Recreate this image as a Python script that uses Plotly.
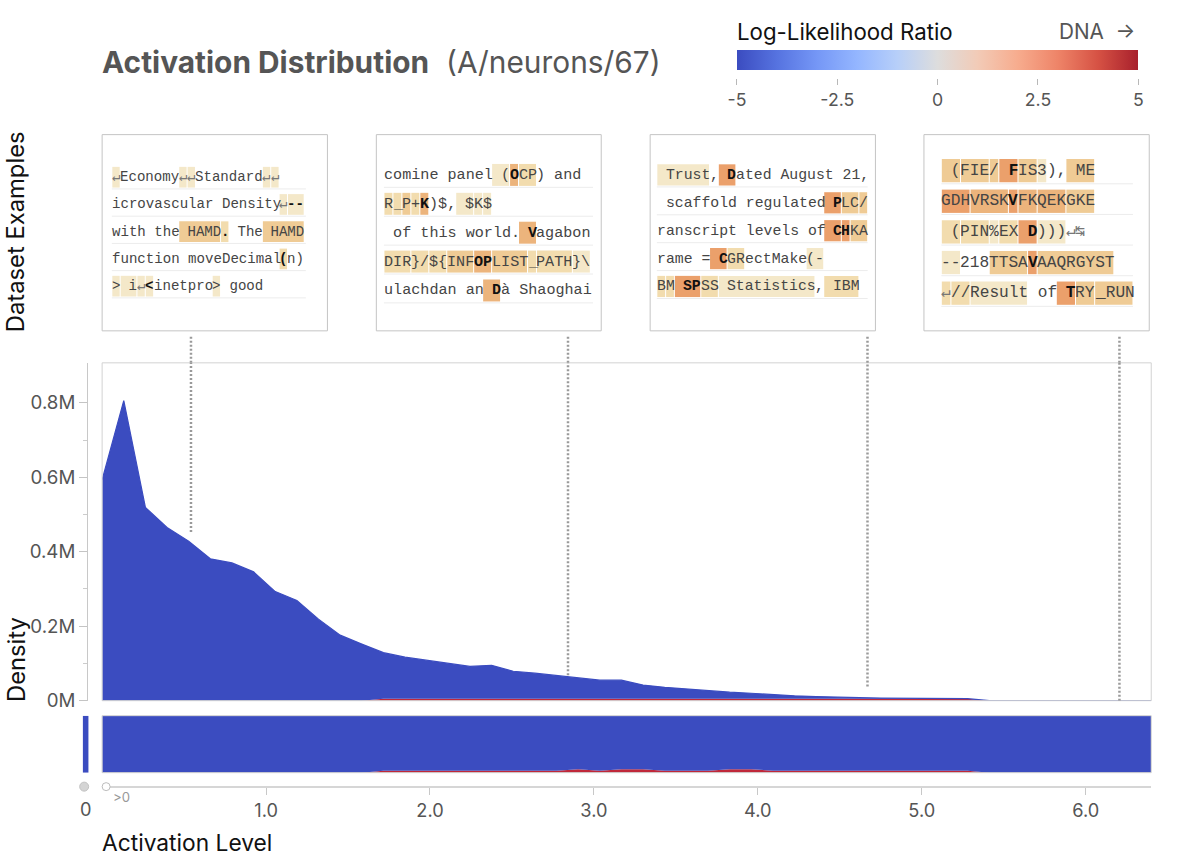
import plotly.graph_objects as go

W, H = 1188, 861

# ---------------- data ----------------
activation = [0.000, 0.132, 0.264, 0.396, 0.528, 0.660, 0.792, 0.924, 1.056, 1.188,
              1.320, 1.452, 1.584, 1.716, 1.848, 1.980, 2.112, 2.244, 2.376, 2.508,
              2.640, 2.772, 2.904, 3.036, 3.168, 3.300, 3.432, 3.564, 3.696, 3.828,
              3.960, 4.092, 4.224, 4.356, 4.488, 4.620, 4.752, 4.884, 5.016, 5.148,
              5.280, 5.412, 5.544, 5.676, 5.808, 5.940, 6.072, 6.204, 6.336, 6.400]
density_m = [0.593, 0.806, 0.519, 0.465, 0.428, 0.381, 0.370, 0.346, 0.293, 0.269,
             0.219, 0.176, 0.152, 0.124, 0.112, 0.104, 0.094, 0.087, 0.090, 0.074,
             0.069, 0.063, 0.057, 0.050, 0.050, 0.037, 0.031, 0.026, 0.022, 0.018,
             0.015, 0.011, 0.008, 0.006, 0.004, 0.003, 0.002, 0.0013, 0.0008, 0.0005,
             0.0003, 0.0, 0.0, 0.0, 0.0, 0.0, 0.0, 0.0, 0.0, 0.0]
dna_density_m = [0, 0, 0, 0, 0, 0, 0, 0, 0, 0,
                 0, 0, 0, 0.005, 0.005, 0.005, 0.005, 0.005, 0.005, 0.005,
                 0.005, 0.005, 0.005, 0.005, 0.005, 0.005, 0.005, 0.005, 0.005, 0.005,
                 0.005, 0.005, 0.005, 0.005, 0.005, 0.005, 0.005, 0.005, 0.005, 0.005,
                 0.005, 0, 0, 0, 0, 0, 0, 0, 0, 0]
strip_dna_share = [0, 0, 0, 0, 0, 0, 0, 0, 0, 0,
                   0, 0, 0, 0.035, 0.035, 0.035, 0.035, 0.035, 0.035, 0.035,
                   0.035, 0.035, 0.06, 0.035, 0.06, 0.06, 0.035, 0.035, 0.035, 0.06,
                   0.06, 0.035, 0.035, 0.035, 0.035, 0.035, 0.035, 0.035, 0.035, 0.035,
                   0.035, 0, 0, 0, 0, 0, 0, 0, 0, 0]
zero_bin_share = [1.0]

y_tickvals = [0, 0.2, 0.4, 0.6, 0.8]
y_ticktext = ["0M", "0.2M", "0.4M", "0.6M", "0.8M"]
y_minorvals = [0.1, 0.3, 0.5, 0.7]
x_tickvals = [1, 2, 3, 4, 5, 6]
x_ticktext = ["1.0", "2.0", "3.0", "4.0", "5.0", "6.0"]
llr_tickvals = [-5, -2.5, 0, 2.5, 5]
llr_ticktext = ["-5", "-2.5", "0", "2.5", "5"]

example_activation = [0.542, 2.842, 4.669, 6.206]
example_line_end_m = [0.453, 0.068, 0.038, 0.0]

# token rows: (text, highlight level, bold)
examples_box1 = [
    [("↵", 1, 0), ("Economy", 0, 0), ("↵", 1, 0), ("↵", 1, 0), ("Standard", 0, 0), ("↵", 1, 0), ("↵", 1, 0)],
    [("icrovascular Density", 0, 0), ("↵", 1, 0), ("--", 1, 1)],
    [("with the", 0, 0), (" HAMD", 3, 0), (".", 2, 1), (" The", 0, 0), (" HAMD", 3, 0)],
    [("function moveDecimal", 0, 0), ("(", 2, 1), ("n)", 0, 0)],
    [(">", 1, 0), (" i", 1, 0), ("↵", 1, 0), ("<", 1, 1), ("inetpro", 0, 0), (">", 1, 0), (" good", 0, 0)],
]
examples_box2 = [
    [("comine panel", 0, 0), (" (", 1, 0), ("O", 4, 1), ("CP", 2, 0), (")", 0, 0), (" and", 0, 0)],
    [("R", 2, 0), ("_", 2, 0), ("P", 3, 0), ("+", 2, 0), ("K", 4, 1), (")$,", 0, 0), (" $", 1, 0), ("K", 1, 0), ("$", 1, 0)],
    [(" of this world.", 0, 0), (" V", 4, 1), ("agabon", 0, 0)],
    [("DIR", 2, 0), ("}/", 2, 0), ("${", 2, 0), ("INF", 3, 0), ("OP", 4, 1), ("LIST", 3, 0), ("_", 2, 0), ("PATH", 2, 0), ("}\\", 1, 0)],
    [("ulachdan an", 0, 0), (" D", 4, 1), ("à Shaoghai", 0, 0)],
]
examples_box3 = [
    [(" Trust", 1, 0), (",", 0, 0), (" D", 5, 1), ("ated August 21,", 0, 0)],
    [(" scaffold regulated", 0, 0), (" P", 5, 1), ("LC", 3, 0), ("/", 3, 0)],
    [("ranscript levels of", 0, 0), (" C", 5, 1), ("H", 5, 1), ("KA", 3, 0)],
    [("rame =", 0, 0), (" C", 5, 1), ("GR", 2, 0), ("ectMake", 0, 0), ("(-", 1, 0)],
    [("B", 2, 0), ("M", 2, 0), (" SP", 5, 1), ("SS", 2, 0), (" Statistics", 1, 0), (",", 0, 0), (" IBM", 2, 0)],
]
examples_box4 = [
    [(" (", 3, 0), ("FIE", 3, 0), ("/", 3, 0), (" F", 5, 1), ("IS", 3, 0), ("3", 1, 0), ("),", 0, 0), (" ME", 3, 0)],
    [("GDH", 5, 0), ("VRSK", 4, 0), ("V", 5, 1), ("FK", 4, 0), ("QEK", 4, 0), ("GKE", 3, 0)],
    [(" (", 2, 0), ("PIN", 2, 0), ("%", 1, 0), ("EX", 2, 0), (" D", 5, 1), (")))", 1, 0), ("↵", 0, 0), ("↹", 0, 0)],
    [("--", 1, 0), ("218", 0, 0), ("TTSA", 3, 0), ("V", 5, 1), ("AAQRGYST", 3, 0)],
    [("↵", 2, 0), ("//", 2, 0), ("Result", 1, 0), (" of", 0, 0), (" T", 5, 1), ("RY", 3, 0), ("_RUN", 3, 0)],
]
examples = [examples_box1, examples_box2, examples_box3, examples_box4]

# ---------------- style / layout constants ----------------
BLUE = "#3b4cc0"
RED = "#c0283a"
UI_FONT = "Inter, Roboto, sans-serif"
MONO = "Liberation Mono, DejaVu Sans Mono, monospace"
LEVEL_COLORS = {1: "#f4e8c9", 2: "#f2dcae", 3: "#efcb95", 4: "#ecb47c", 5: "#eba06b"}
coolwarm = [[0.0, "#3b4cc0"], [0.1, "#5673e0"], [0.2, "#7597f6"], [0.3, "#94b6ff"],
            [0.4, "#b7cff9"], [0.5, "#dddddd"], [0.6, "#f2cbb7"], [0.7, "#f7ac8e"],
            [0.8, "#ee8468"], [0.9, "#d65244"], [1.0, "#a8202c"]]

# the page is photographed slightly reduced and shifted; layout positions below are
# given in target-picture pixels and mapped through this correction
SX, OX = 0.990, 7.7
SY, OY = 0.9865, 0.0


def X(px):
    return ((px - OX) / SX) / W


def Y(py):
    return 1 - ((py - OY) / SY) / H


def F(size):
    return size / ((SX + SY) / 2)


X_RANGE = [0, 6.40]
Y_TOP = 0.9074

boxes = [
    dict(x0=101, x1=326.7, tx=110.7, cw=8.38, ry=177.3, dy=27.25, ncols=23.2),
    dict(x0=375.7, x1=601, tx=383.3, cw=8.99, ry=175.0, dy=28.9, ncols=23.3),
    dict(x0=650, x1=875.7, tx=656.7, cw=8.8, ry=175.0, dy=27.9, ncols=24.0),
    dict(x0=924.3, x1=1150, tx=941.7, cw=9.6, ry=170.7, dy=30.65, ncols=20.0),
]
BOX_Y0, BOX_Y1 = 134.7, 331

# ---------------- traces ----------------
fig = go.Figure()
fig.add_trace(go.Scatter(x=activation, y=dna_density_m, stackgroup="main", mode="lines",
                         line=dict(width=0, color=RED), fillcolor=RED,
                         xaxis="x", yaxis="y", hoverinfo="skip", showlegend=False))
fig.add_trace(go.Scatter(x=activation, y=density_m, stackgroup="main", mode="lines",
                         line=dict(width=1.2, color=BLUE), fillcolor=BLUE,
                         xaxis="x", yaxis="y", showlegend=False))

fig.add_trace(go.Scatter(x=activation, y=strip_dna_share, stackgroup="strip", mode="lines",
                         line=dict(width=0, color=RED), fillcolor=RED,
                         xaxis="x2", yaxis="y2", hoverinfo="skip", showlegend=False))
fig.add_trace(go.Scatter(x=activation, y=[1 - s for s in strip_dna_share], stackgroup="strip",
                         mode="lines", line=dict(width=0, color=BLUE), fillcolor=BLUE,
                         xaxis="x2", yaxis="y2", hoverinfo="skip", showlegend=False))

fig.add_trace(go.Bar(x=[0], y=zero_bin_share, width=1, marker=dict(color=BLUE, line=dict(width=0)),
                     xaxis="x3", yaxis="y3", showlegend=False, hoverinfo="skip"))

fig.add_trace(go.Scatter(x=[X_RANGE[0]], y=[0.5], mode="markers", marker=dict(size=1, opacity=0),
                         xaxis="x4", yaxis="y4", hoverinfo="skip", showlegend=False))

fig.add_trace(go.Scatter(
    x=[0], y=[0.5], mode="markers", xaxis="x5", yaxis="y5", hoverinfo="skip", showlegend=False,
    marker=dict(size=1, opacity=0, color=[0], cmin=-5, cmax=5, colorscale=coolwarm, showscale=True,
                colorbar=dict(orientation="h", x=(X(737) + X(1139)) / 2, xanchor="center",
                              y=Y(50), yanchor="top", len=X(1139) - X(737), lenmode="fraction",
                              thickness=20 / SY, thicknessmode="pixels", outlinewidth=0,
                              xpad=0, ypad=0, ticks="", showticklabels=False))))

# ---------------- shapes & annotations ----------------
shapes = []
annotations = []

shapes.append(dict(type="rect", xref="x domain", yref="y domain", x0=0, x1=1, y0=0, y1=1,
                   line=dict(color="#d2d2d2", width=1), layer="above"))
shapes.append(dict(type="rect", xref="x2 domain", yref="y2 domain", x0=0, x1=1, y0=0, y1=1,
                   line=dict(color="#cfcfcf", width=1), layer="above"))

for act, yend in zip(example_activation, example_line_end_m):
    shapes.append(dict(type="line", xref="x", yref="y", x0=act, x1=act, y0=yend, y1=Y_TOP,
                       line=dict(color="#9a9a9a", width=2.5, dash="2px,2px"), layer="above"))
    shapes.append(dict(type="line", xref="x", yref="paper", x0=act, x1=act, y0=Y(363), y1=Y(335),
                       line=dict(color="#9a9a9a", width=2.5, dash="2px,2px"), layer="above"))

shapes.append(dict(type="circle", xref="paper", yref="paper", x0=X(78.5), x1=X(87.5),
                   y0=Y(791.5), y1=Y(782.5), fillcolor="#d4d4d4", line=dict(color="#c2c2c2", width=1)))
shapes.append(dict(type="circle", xref="paper", yref="paper", x0=X(101), x1=X(109),
                   y0=Y(791), y1=Y(783), fillcolor="white", line=dict(color="#bdbdbd", width=1)))


def esc(s):
    return s.replace("&", "&amp;").replace("<", "&lt;").replace(">", "&gt;").replace(" ", "\u00a0")


for b, rows in zip(boxes, examples):
    shapes.append(dict(type="rect", xref="paper", yref="paper", x0=X(b["x0"]), x1=X(b["x1"]),
                       y0=Y(BOX_Y1), y1=Y(BOX_Y0), fillcolor="white",
                       line=dict(color="#c4c4c4", width=1), layer="above"))
    fs = (b["cw"] / SX) / 0.6
    for r, row in enumerate(rows):
        yc = b["ry"] + r * b["dy"]
        hh = 0.38 * b["dy"]
        idx = 0
        for text, level, bold in row:
            n = len(text)
            if level:
                shapes.append(dict(type="rect", xref="paper", yref="paper",
                                   x0=X(b["tx"] + idx * b["cw"] + 0.5),
                                   x1=X(b["tx"] + (idx + n) * b["cw"] - 0.5),
                                   y0=Y(yc + hh), y1=Y(yc - hh),
                                   fillcolor=LEVEL_COLORS[level], line=dict(width=0), layer="above"))
            if bold:
                stripped = text.lstrip(" ")
                lead = len(text) - len(stripped)
                label = esc(" " * lead) + "<b><span style='color:#111'>" + esc(stripped) + "</span></b>"
            else:
                label = esc(text)
            color = "#777" if text in ("↵", "↹") else "#454545"
            annotations.append(dict(xref="paper", yref="paper", x=X(b["tx"] + idx * b["cw"]), y=Y(yc),
                                    xanchor="left", yanchor="middle", showarrow=False, text=label,
                                    borderpad=0, borderwidth=0,
                                    font=dict(family=MONO, size=fs, color=color)))
            idx += n
        shapes.append(dict(type="line", xref="paper", yref="paper", x0=X(b["tx"]),
                           x1=X(b["tx"] + b["ncols"] * b["cw"]),
                           y0=Y(yc + 0.43 * b["dy"]), y1=Y(yc + 0.43 * b["dy"]),
                           line=dict(color="#ececec", width=1), layer="above"))


def ann(text, x, y, size, color, xanchor="left", angle=0):
    annotations.append(dict(xref="paper", yref="paper", x=X(x), y=Y(y), text=text, showarrow=False,
                            xanchor=xanchor, yanchor="middle", textangle=angle, borderpad=0,
                            font=dict(family=UI_FONT, size=F(size), color=color)))


ann("<b>Activation Distribution</b>", 100, 62, 29.5, "#555555")
ann("(A/neurons/67)", 444, 62, 29.5, "#555555")
ann("Log-Likelihood Ratio", 736, 32, 22, "#111111")
ann("DNA\u00a0\u00a0\u2192", 1137, 32, 20.5, "#555555", xanchor="right")
ann("Dataset Examples", 15, 232, 23.5, "#111111", xanchor="center", angle=-90)
ann("Density", 15, 660, 23.5, "#111111", xanchor="center", angle=-90)
ann("Activation Level", 100, 843, 22.5, "#111111")
ann("0", 84, 809, 18, "#555555", xanchor="center")
ann("&gt;0", 111, 797, 13, "#999999")

ytickfont = dict(family=UI_FONT, size=F(18.5), color="#555555")
xtickfont = dict(family=UI_FONT, size=F(18), color="#555555")
cbtickfont = dict(family=UI_FONT, size=F(17.5), color="#555555")

fig.update_layout(
    width=W, height=H, autosize=False,
    margin=dict(l=0, r=0, t=0, b=0, pad=0),
    paper_bgcolor="white", plot_bgcolor="white",
    showlegend=False,
    xaxis=dict(domain=[X(101), X(1152)], range=X_RANGE, anchor="y", visible=False),
    yaxis=dict(domain=[Y(701), Y(363)], range=[0, Y_TOP], anchor="free", position=X(86),
               showline=True, linecolor="#c8c8c8", linewidth=1, ticks="outside", ticklen=8 / SX,
               tickcolor="#c4c4c4", tickvals=y_tickvals, ticktext=y_ticktext, tickfont=ytickfont,
               showgrid=False, zeroline=False,
               minor=dict(tickvals=y_minorvals, ticks="outside", ticklen=4 / SX, tickcolor="#cccccc",
                          showgrid=False)),
    xaxis2=dict(domain=[X(101), X(1152)], range=X_RANGE, anchor="y2", visible=False),
    yaxis2=dict(domain=[Y(773), Y(716)], range=[0, 1], anchor="x2", visible=False),
    xaxis3=dict(domain=[X(81.5), X(87.5)], range=[-0.5, 0.5], anchor="y3", visible=False),
    yaxis3=dict(domain=[Y(773), Y(716)], range=[0, 1], anchor="x3", visible=False),
    xaxis4=dict(domain=[X(101), X(1152)], range=X_RANGE, anchor="y4", showline=True,
                linecolor="#d6d6d6", linewidth=2, ticks="outside", ticklen=7 / SY, tickcolor="#c8c8c8",
                tickvals=x_tickvals, ticktext=x_ticktext, tickfont=xtickfont,
                showgrid=False, zeroline=False),
    yaxis4=dict(domain=[Y(786), Y(786) + 0.002], range=[0, 1], anchor="x4", visible=False),
    xaxis5=dict(domain=[X(737), X(1139)], range=[-5, 5], anchor="y5", showline=False,
                ticks="outside", ticklen=6 / SY, tickcolor="#b8b8b8", tickvals=llr_tickvals,
                ticktext=llr_ticktext, tickfont=cbtickfont, showgrid=False, zeroline=False),
    yaxis5=dict(domain=[Y(78), Y(78) + 0.002], range=[0, 1], anchor="x5", visible=False),
    shapes=shapes,
    annotations=annotations,
)

fig.write_html("out.html", config={"displayModeBar": False, "responsive": False})

with open("out.html", "r", encoding="utf-8") as f:
    html = f.read()
style = "<style>html,body{margin:0;padding:0;overflow:hidden;background:#fff;}</style>"
if "<head>" in html:
    html = html.replace("<head>", "<head>" + style, 1)
else:
    html = style + html
with open("out.html", "w", encoding="utf-8") as f:
    f.write(html)
